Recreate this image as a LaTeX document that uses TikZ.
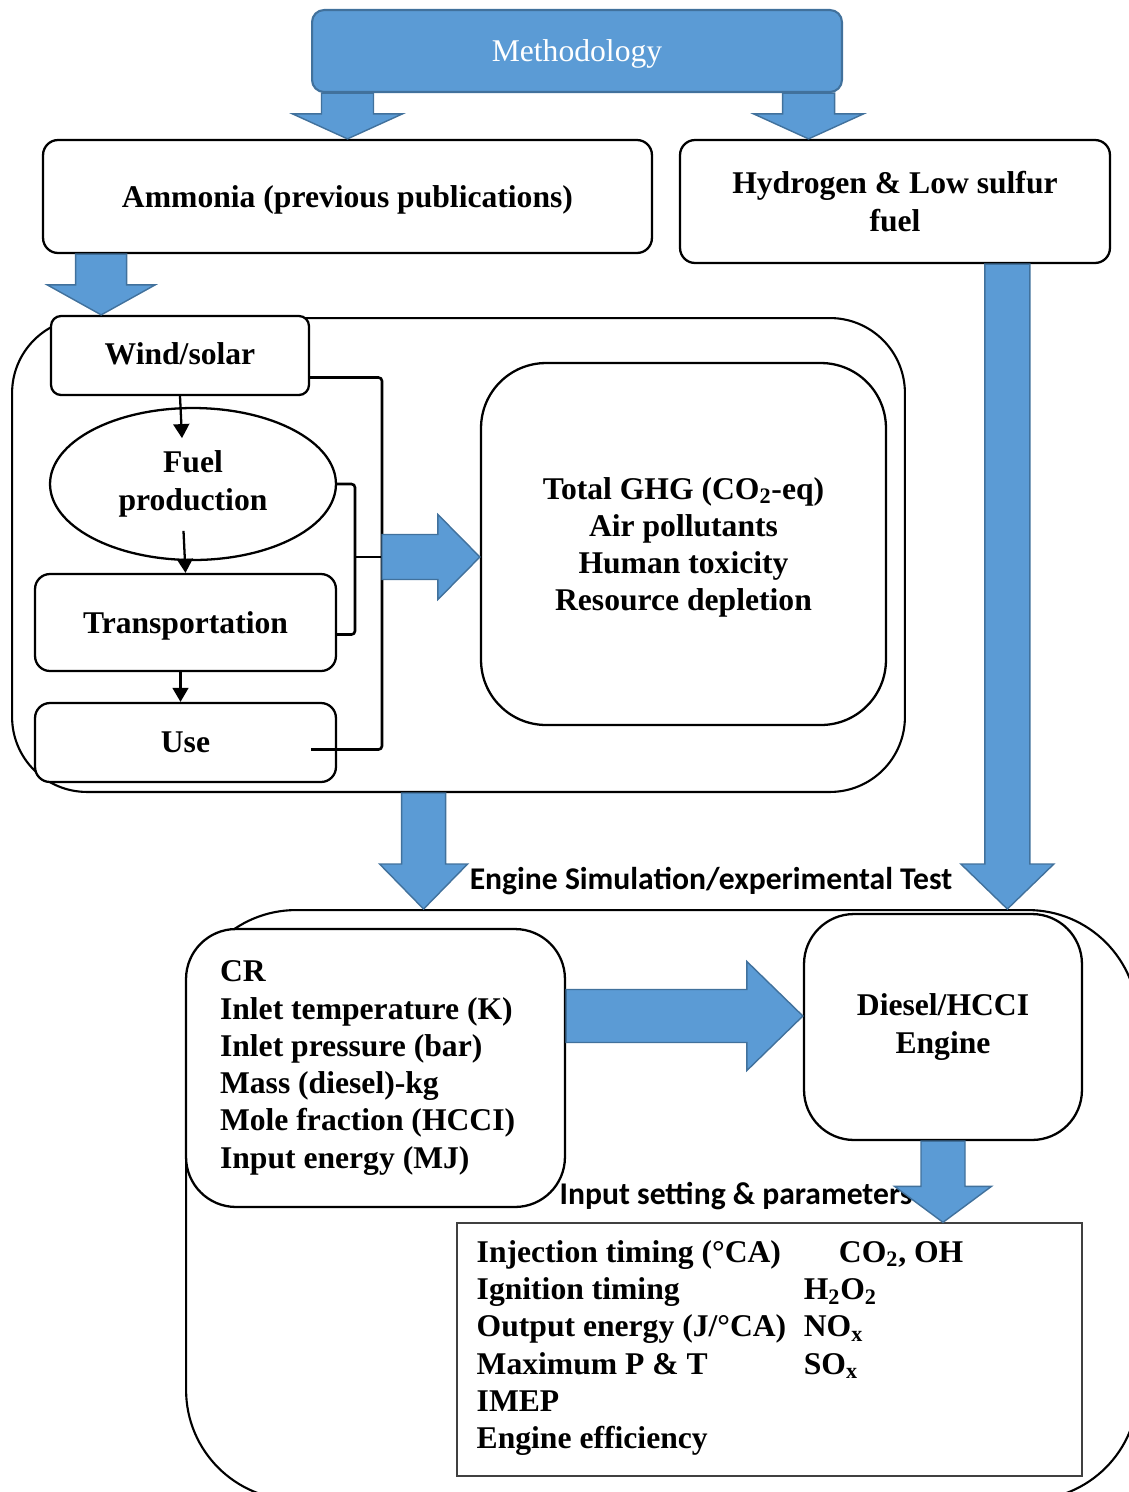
\documentclass[tikz,border=0pt]{standalone}
\usepackage{fontspec}
\setmainfont{Liberation Serif}
\newfontfamily\labelfont{Carlito}
\usetikzlibrary{positioning,arrows.meta,shapes.geometric,calc}
\definecolor{fatblue}{RGB}{91,155,213}
\definecolor{fatedge}{RGB}{65,113,156}
\tikzset{
box/.style={
draw,
line width=1.3pt,
rounded corners=0.3cm,
fill=white,
align=center,
inner sep=0pt,
font=\bfseries\fontsize{18}{21.2}\selectfont
},
methbox/.style={
draw=fatedge,
fill=fatblue,
line width=1.2pt,
rounded corners=0.24cm,
text=white,
minimum width=10.6cm,
minimum height=1.64cm,
font=\fontsize{18}{21.2}\selectfont
},
frame/.style={
draw,
line width=1.2pt,
inner sep=0pt
},
outbox/.style={
draw=black!75,
line width=0.8pt,
fill=white,
inner sep=0pt
},
smallarrow/.style={
-{Triangle[length=8pt,width=9pt]},
line width=1.3pt
},
bracket/.style={
line width=1.5pt,
rounded corners=2pt
},
fatarrow/.style={
fill=fatblue,
draw=fatedge,
line width=0.8pt
},
sidelabel/.style={
inner sep=0pt,
font=\labelfont\bfseries\fontsize{18}{21.2}\selectfont
}
}

\begin{document}
\begin{tikzpicture}[x=0.02cm,y=-0.02cm]
\clip (0,0) rectangle (1129,1492);

% big frames
\node[frame,rounded corners=1.5cm,minimum width=17.86cm,minimum height=9.48cm](lca) at (458.5,555){};
\node[frame,rounded corners=2.2cm,minimum width=19.04cm,minimum height=11.8cm](big) at (662,1205){};

% top part
\node[methbox,text depth=0pt](meth) at (577,51){Methodology};
\node[box,text depth=0pt,minimum width=12.18cm,minimum height=2.26cm](amm) at (347.5,196.5){Ammonia (previous publications)};
\node[box,minimum width=8.6cm,minimum height=2.46cm](hyd) at (895,201.5){Hydrogen \& Low sulfur\\fuel};

% life cycle
\node[box,rounded corners=0.2cm,minimum width=5.16cm,minimum height=1.58cm](wind) at (180,355.5){\raisebox{2pt}{Wind/solar}};
\node[box,ellipse,minimum width=5.72cm,minimum height=3.04cm](fuel) at (193,484){Fuel\\production};
\node[box,text depth=0pt,minimum width=6.02cm,minimum height=1.94cm](trans) at (185.5,622.5){Transportation};
\node[box,minimum width=6.02cm,minimum height=1.58cm](use) at (185.5,742.5){Use};
\node[box,rounded corners=1.3cm,minimum width=8.1cm,minimum height=7.24cm,text depth=-6pt](ghg) at (683.5,544){Total GHG (CO\textsubscript{2}-eq)\\Air pollutants\\Human toxicity\\Resource depletion};

% engine part
\node[box,rounded corners=1cm,align=flush left,text width=6.22cm,minimum width=7.58cm,minimum height=5.56cm](cr) at (375.5,1068){CR\\Inlet temperature (K)\\Inlet pressure (bar)\\Mass (diesel)-kg\\Mole fraction (HCCI)\\Input energy (MJ)};
\node[box,rounded corners=1cm,minimum width=5.56cm,minimum height=4.52cm](eng) at (943,1027){Diesel/HCCI\\Engine};
\node[outbox,minimum width=12.5cm,minimum height=5.06cm](out) at (769.5,1349.5){};
\node[anchor=base west,inner sep=0pt,font=\bfseries\fontsize{18}{21.2}\selectfont](outtext) at ($(out.north west)+(20,40)$){%
\begin{tabular}[t]{@{}l@{\hspace{10pt}}l@{}}
Injection timing (°CA) & \hspace*{20pt}CO\textsubscript{2}, OH\\
Ignition timing & H\textsubscript{2}O\textsubscript{2}\\
Output energy (J/°CA) & NO\textsubscript{x}\\
Maximum P \& T & SO\textsubscript{x}\\
IMEP & \\
Engine efficiency &
\end{tabular}};

\node[sidelabel](simlabel) at (711,881){Engine Simulation/experimental Test};
\node[sidelabel](setlabel) at (736,1196){Input setting \& parameters};

% small arrows
\draw[smallarrow](wind.south)--++(2,42);
\draw[smallarrow]($(trans.north)+(-2,-42)$)--(trans.north);
\draw[smallarrow]($(trans.south)+(-5,0)$)--($(use.north)+(-5,0)$);

% brackets
\coordinate(brk) at (382,557);
\coordinate(ib) at (355,557);
\draw[bracket]($(wind.east)+(0,22)$)-|(brk)|-($(use.east)+(-26,7)$);
\draw[bracket](fuel.east)-|(ib)|-($(trans.east)+(0,12)$);
\draw[bracket](ib)--(brk);

% fat arrows
\coordinate(m1s) at (meth.south-|amm.north);
\coordinate(m1e) at (amm.north);
\coordinate(m2e) at ($(hyd.north west)!0.3!(hyd.north east)$);
\coordinate(m2s) at (meth.south-|m2e);
\coordinate(a1s) at ($(amm.south west)!0.097!(amm.south east)$);
\coordinate(a1e) at (a1s|-wind.north);
\coordinate(h1s) at ($(hyd.south west)!0.76!(hyd.south east)$);
\coordinate(h1e) at (h1s|-big.north);
\coordinate(g1e) at (brk-|ghg.west);
\coordinate(d1s) at ($(lca.south west)!0.461!(lca.south east)$);
\coordinate(d1e) at (d1s|-big.north);
\coordinate(c1s) at ($(cr.east)+(0,-52)$);
\coordinate(c1e) at (c1s-|eng.west);
\coordinate(e1s) at (eng.south);
\coordinate(e1e) at (eng.south|-out.north);

\foreach \s/\e/\w/\h/\l in {m1s/m1e/26/55/25,m2s/m2e/26/55/25,a1s/a1e/25.5/54/30,
h1s/h1e/22.5/46.5/45,brk/g1e/22.5/42.5/42,d1s/d1e/22/44/45,c1s/c1e/26.5/54.5/56,e1s/e1e/22/48.5/36}{
\coordinate(hb) at ($(\e)!\l*0.02cm!(\s)$);
\draw[fatarrow]($(\s)!\w*0.02cm!90:(\e)$)--($(hb)!\w*0.02cm!90:(\e)$)--($(hb)!\h*0.02cm!90:(\e)$)--(\e)
--($(hb)!\h*0.02cm!-90:(\e)$)--($(hb)!\w*0.02cm!-90:(\e)$)--($(\s)!\w*0.02cm!-90:(\e)$)--cycle;
}
\end{tikzpicture}
\end{document}
